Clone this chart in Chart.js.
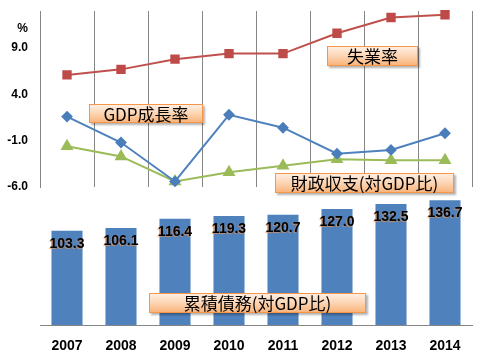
<!DOCTYPE html>
<html>
<head>
<meta charset="utf-8">
<script src="https://cdn.jsdelivr.net/npm/chart.js@4/dist/chart.umd.min.js"></script>
<style>
  body { margin: 0; background: #fff; }
  #wrap { position: relative; width: 480px; height: 360px; }
  #wrap canvas { position: absolute; left: 0; top: 0; }
  .tag {
    position: absolute; box-sizing: border-box;
    border: 1px solid #F79646;
    background: linear-gradient(to bottom, #FEEEE2 0%, #FCD2AE 55%, #F9B57C 100%);
    box-shadow: 2px 2px 2px rgba(0,0,0,0.3);
    font-family: "Noto Sans CJK JP", sans-serif; font-size: 17px; color: #000;
    text-align: center; white-space: nowrap;
  }
  #pct { position: absolute; left: 0; width: 28px; top: 21px; text-align: right;
    font: bold 12px "Liberation Sans", Arial, sans-serif; color: #000; }
</style>
</head>
<body>
<div id="wrap">
  <canvas id="lineChart" width="480" height="360"></canvas>
  <canvas id="barChart" width="480" height="360"></canvas>
  <div id="pct">%</div>
  <div class="tag" style="left:89px;top:104px;width:114px;height:19px;line-height:17px;">GDP成長率</div>
  <div class="tag" style="left:327px;top:46px;width:91px;height:20px;line-height:18px;">失業率</div>
  <div class="tag" style="left:275px;top:173px;width:179px;height:20px;line-height:18px;">財政収支(対GDP比)</div>
  <div class="tag" style="left:149px;top:293px;width:217px;height:20px;line-height:18px;">累積債務(対GDP比)</div>
</div>
<script>
const years = ['2007', '2008', '2009', '2010', '2011', '2012', '2013', '2014'];
const unemployment = [6.1, 6.7, 7.8, 8.4, 8.4, 10.6, 12.3, 12.6];
const gdpGrowth = [1.6, -1.2, -5.4, 1.8, 0.4, -2.4, -2.0, -0.2];
const fiscalBalance = [-1.6, -2.7, -5.4, -4.4, -3.7, -3.0, -3.1, -3.1];
const debt = [103.3, 106.1, 116.4, 119.3, 120.7, 127.0, 132.5, 136.7];
const lineTicks = [-6, -1, 4, 9];

const font = "'Liberation Sans', Arial, sans-serif";
const gray = '#868686';

new Chart(document.getElementById('lineChart'), {
    type: 'line',
    data: {
        labels: years,
        datasets: [
            {
                data: unemployment,
                borderColor: '#C0504D', backgroundColor: '#BE4B48',
                borderWidth: 2, pointStyle: 'rect', pointRadius: 5.2,
                pointBorderColor: '#BE4B48'
            },
            {
                data: gdpGrowth,
                borderColor: '#4F81BD', backgroundColor: '#4A7EBB',
                borderWidth: 2, pointStyle: 'rectRot', pointRadius: 4.5,
                pointBorderColor: '#4A7EBB'
            },
            {
                data: fiscalBalance,
                borderColor: '#9BBB59', backgroundColor: '#9BBB59',
                borderWidth: 2, pointStyle: 'triangle', pointRadius: 5.5,
                pointBorderColor: '#9BBB59'
            }
        ]
    },
    options: {
        responsive: false,
        animation: false,
        layout: { padding: { top: 11, bottom: 173, left: 0, right: 8 } },
        plugins: { legend: { display: false }, tooltip: { enabled: false } },
        elements: { line: { tension: 0 } },
        clip: false,
        scales: {
            x: {
                offset: true,
                grid: { offset: true, color: gray, lineWidth: 1, drawTicks: false },
                ticks: { display: false },
                border: { display: false },
                afterFit: (s) => { s.height = 0; }
            },
            y: {
                min: -6,
                max: 13,
                afterBuildTicks: (s) => { s.ticks = lineTicks.map((v) => ({ value: v })); },
                afterFit: (s) => { s.width = 40; s.paddingTop = 0; s.paddingBottom = 0; },
                grid: { display: false, drawTicks: false },
                border: { display: true, color: gray },
                ticks: {
                    padding: 12,
                    color: '#000',
                    font: { family: font, size: 12, weight: 'bold' },
                    callback: (v) => v.toFixed(1)
                }
            }
        }
    }
});

const barLabels = {
    id: 'barLabels',
    afterDatasetsDraw(chart) {
        const ctx = chart.ctx;
        const meta = chart.getDatasetMeta(0);
        ctx.save();
        ctx.font = 'bold 14px ' + font;
        ctx.fillStyle = '#000';
        ctx.textAlign = 'center';
        ctx.textBaseline = 'middle';
        ctx.shadowColor = 'rgba(247,150,70,0.7)';
        ctx.shadowOffsetX = -1;
        ctx.shadowOffsetY = 1;
        ctx.shadowBlur = 1;
        meta.data.forEach((bar, i) => {
            ctx.fillText(debt[i].toFixed(1), bar.x, bar.y + 13);
        });
        ctx.restore();
    }
};

new Chart(document.getElementById('barChart'), {
    type: 'bar',
    data: {
        labels: years,
        datasets: [{
            data: debt,
            backgroundColor: '#4F81BD',
            categoryPercentage: 1,
            barPercentage: 0.575
        }]
    },
    options: {
        responsive: false,
        animation: false,
        layout: { padding: { top: 188, bottom: 0, left: 40, right: 8 } },
        plugins: { legend: { display: false }, tooltip: { enabled: false } },
        scales: {
            x: {
                grid: { display: false, drawTicks: false },
                border: { display: true, color: gray },
                afterFit: (s) => { s.height = 35; },
                ticks: {
                    padding: 13,
                    color: '#000',
                    font: { family: font, size: 14, weight: 'bold' }
                }
            },
            y: { display: false, min: 0, max: 150 }
        }
    },
    plugins: [barLabels]
});
</script>
</body>
</html>
